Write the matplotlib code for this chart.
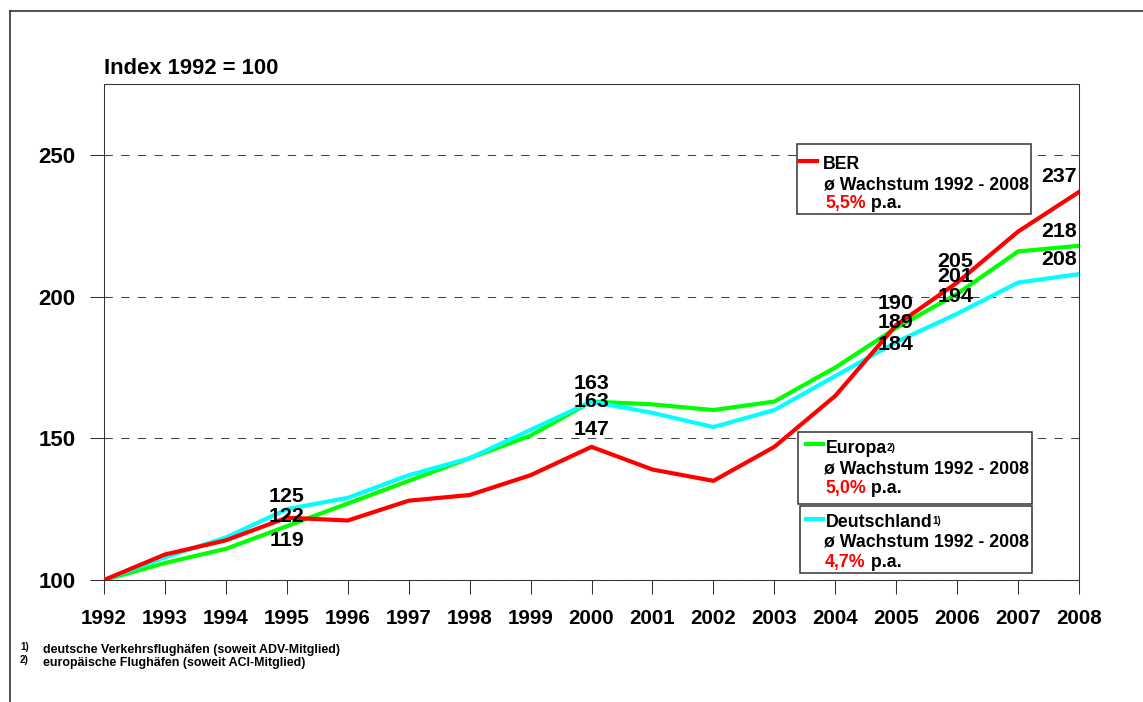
import matplotlib
matplotlib.use("Agg")
import matplotlib.pyplot as plt
from matplotlib.patches import Rectangle
from matplotlib.lines import Line2D
from matplotlib.text import Annotation

plt.rcParams['font.family'] = ['Liberation Sans', 'DejaVu Sans']
plt.rcParams['font.weight'] = 'bold'

# data (Index 1992 = 100)
years = list(range(1992, 2009))
ber = [100, 109, 114, 122, 121, 128, 130, 137, 147, 139, 135, 147, 165, 190, 205, 223, 237]
europa = [100, 106, 111, 119, 127, 135, 143, 151, 163, 162, 160, 163, 175, 189, 201, 216, 218]
deutschland = [100, 108, 115, 125, 129, 137, 143, 153, 163, 159, 154, 160, 172, 184, 194, 205, 208]
y_ticks = [100, 150, 200, 250]

series_names = ['BER', 'Europa', 'Deutschland']
series_notes = ['', '2)', '1)']
growth = ['5,5%', '5,0%', '4,7%']
colors = ['#ff0000', '#00ff00', '#00ffff']

# which values get a number on the chart: (series index, year)
labelled = [(2, 1995), (0, 1995), (1, 1995),
            (1, 2000), (2, 2000), (0, 2000),
            (0, 2005), (1, 2005), (2, 2005),
            (0, 2006), (1, 2006), (2, 2006),
            (0, 2008), (1, 2008), (2, 2008)]
# label offsets in pixels (dx, dy up)
label_offsets = [(0, 12.5), (0, 1), (0, -14),
                 (0, 18), (0, 0), (0, 17),
                 (-1, 22), (-1, 5), (-1, -2),
                 (-1.5, 21), (-1.5, 17), (-1.5, 17),
                 (-2.5, 15), (-2.5, 14.5), (-2.5, 15)]

W, H = 1143, 702
fig = plt.figure(figsize=(W / 100, H / 100), dpi=100)


def fx(x):
    return x / W


def fy(y):
    return 1 - y / H


ax = fig.add_axes([fx(104), fy(580), (1079 - 104) / W, (580 - 84.3) / H])

all_series = [ber, europa, deutschland]
for i in [1, 2, 0]:
    ax.plot(years, all_series[i], color=colors[i], lw=3, zorder=3)

ax.set_xlim(1992, 2008)
ax.set_ylim(100, 275)
ax.set_xticks(years)
ax.set_yticks(y_ticks)
ax.tick_params(axis='both', direction='out', length=10, width=0.75, color='#333')
ax.tick_params(axis='x', pad=11, labelsize=14.8)
ax.tick_params(axis='y', pad=10.5, labelsize=16)
for s in ax.spines.values():
    s.set_linewidth(0.75)
    s.set_color('#333')
ax.yaxis.grid(True, color='#444', linestyle=(0, (8, 8)), lw=0.75)
ax.set_axisbelow(True)

for (si, yr), (dx, dy) in zip(labelled, label_offsets):
    v = all_series[si][years.index(yr)]
    ax.annotate(str(v), xy=(yr, v), xytext=(dx * 0.72, dy * 0.72),
                textcoords='offset points', ha='right' if yr == 2008 else 'center',
                va='center', fontsize=15.4, zorder=4)

fig.text(fx(104), fy(74), 'Index 1992 = 100', fontsize=15.8, va='baseline')

# legend boxes
boxes = [(797, 144, 1031, 214), (798, 432, 1032, 504), (800, 506, 1032, 573)]
line_pos = [(800, 817, 161), (806, 823, 444), (806, 823, 519)]
name_pos = [(823, 169), (826, 453.3), (826, 526.7)]
row_base = [(189, 208.3), (473.3, 492.7), (546.7, 566.7)]
for i in range(3):
    x0, y0, x1, y1 = boxes[i]
    fig.add_artist(Rectangle((fx(x0), fy(y1)), (x1 - x0) / W, (y1 - y0) / H,
                             transform=fig.transFigure, fc='white', ec='#333',
                             lw=1.1, zorder=5))
    lx0, lx1, ly = line_pos[i]
    fig.add_artist(Line2D([fx(lx0), fx(lx1)], [fy(ly), fy(ly)], color=colors[i],
                          lw=3, transform=fig.transFigure, zorder=6))
    t = fig.text(fx(name_pos[i][0]), fy(name_pos[i][1]), series_names[i],
                 fontsize=12.8, va='baseline', zorder=6)
    if series_notes[i]:
        fig.add_artist(Annotation(series_notes[i], xy=(1, 1), xycoords=t,
                                  xytext=(-0.5, -2), textcoords='offset points',
                                  va='top', ha='left', fontsize=7, zorder=6))
    fig.text(fx(824), fy(row_base[i][0]), '\u00f8 Wachstum 1992 - 2008',
             fontsize=12.8, va='baseline', zorder=6)
    p = fig.text(fx(825), fy(row_base[i][1]), growth[i], color='#ff0000',
                 fontsize=12.8, va='baseline', zorder=6)
    fig.add_artist(Annotation(' p.a.', xy=(1, 0), xycoords=p, va='bottom',
                              ha='left', fontsize=12.8, zorder=6))

# footnotes
notes = [('1)', 'deutsche Verkehrsflughäfen (soweit ADV-Mitglied)', 652.5),
         ('2)', 'europäische Flughäfen (soweit ACI-Mitglied)', 666)]
for sup, txt, base in notes:
    fig.text(fx(20), fy(base - 3), sup, fontsize=7, va='baseline')
    fig.text(fx(43), fy(base), txt, fontsize=8.9, va='baseline')

# outer frame (left and top edges)
fig.add_artist(Line2D([fx(9.5), fx(9.5)], [0, fy(10.5)], color='#222', lw=1.1,
                      transform=fig.transFigure))
fig.add_artist(Line2D([fx(9.5), 1], [fy(10.5), fy(10.5)], color='#222', lw=1.1,
                      transform=fig.transFigure))

fig.savefig('out.png', dpi=100)
